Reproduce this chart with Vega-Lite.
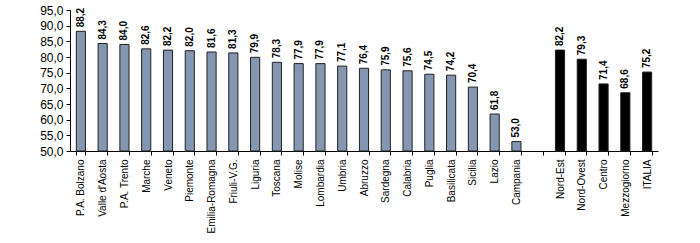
{
  "$schema": "https://vega.github.io/schema/vega-lite/v6.json",
  "width": 588,
  "height": 141,
  "autosize": "none",
  "padding": {"left": 70, "top": 10, "right": 42, "bottom": 92},
  "background": "white",
  "config": {
    "locale": {"number": {"decimal": ",", "thousands": ".", "grouping": [3], "currency": ["€", ""]}},
    "view": {"stroke": null},
    "font": "Liberation Sans"
  },
  "data": {
    "values": [
      {"regione": "P.A. Bolzano", "valore": 88.2, "tipo": "regione"},
      {"regione": "Valle d'Aosta", "valore": 84.3, "tipo": "regione"},
      {"regione": "P.A. Trento", "valore": 84.0, "tipo": "regione"},
      {"regione": "Marche", "valore": 82.6, "tipo": "regione"},
      {"regione": "Veneto", "valore": 82.2, "tipo": "regione"},
      {"regione": "Piemonte", "valore": 82.0, "tipo": "regione"},
      {"regione": "Emilia-Romagna", "valore": 81.6, "tipo": "regione"},
      {"regione": "Friuli-V.G.", "valore": 81.3, "tipo": "regione"},
      {"regione": "Liguria", "valore": 79.9, "tipo": "regione"},
      {"regione": "Toscana", "valore": 78.3, "tipo": "regione"},
      {"regione": "Molise", "valore": 77.9, "tipo": "regione"},
      {"regione": "Lombardia", "valore": 77.9, "tipo": "regione"},
      {"regione": "Umbria", "valore": 77.1, "tipo": "regione"},
      {"regione": "Abruzzo", "valore": 76.4, "tipo": "regione"},
      {"regione": "Sardegna", "valore": 75.9, "tipo": "regione"},
      {"regione": "Calabria", "valore": 75.6, "tipo": "regione"},
      {"regione": "Puglia", "valore": 74.5, "tipo": "regione"},
      {"regione": "Basilicata", "valore": 74.2, "tipo": "regione"},
      {"regione": "Sicilia", "valore": 70.4, "tipo": "regione"},
      {"regione": "Lazio", "valore": 61.8, "tipo": "regione"},
      {"regione": "Campania", "valore": 53.0, "tipo": "regione"},
      {"regione": "Nord-Est", "valore": 82.2, "tipo": "area"},
      {"regione": "Nord-Ovest", "valore": 79.3, "tipo": "area"},
      {"regione": "Centro", "valore": 71.4, "tipo": "area"},
      {"regione": "Mezzogiorno", "valore": 68.6, "tipo": "area"},
      {"regione": "ITALIA", "valore": 75.2, "tipo": "area"}
    ]
  },
  "encoding": {
    "x": {
      "field": "regione",
      "type": "nominal",
      "sort": null,
      "scale": {
        "domain": ["P.A. Bolzano", "Valle d'Aosta", "P.A. Trento", "Marche", "Veneto", "Piemonte", "Emilia-Romagna", "Friuli-V.G.", "Liguria", "Toscana", "Molise", "Lombardia", "Umbria", "Abruzzo", "Sardegna", "Calabria", "Puglia", "Basilicata", "Sicilia", "Lazio", "Campania", " ", "Nord-Est", "Nord-Ovest", "Centro", "Mezzogiorno", "ITALIA"],
        "paddingInner": 0.58,
        "paddingOuter": 0.29
      },
      "axis": {
        "title": null,
        "labelAngle": -90,
        "labelAlign": "right",
        "labelBaseline": "middle",
        "labelFontSize": 10,
        "labelColor": "#000",
        "labelPadding": 4,
        "tickBand": "extent",
        "tickSize": 4,
        "tickColor": "#000",
        "domainColor": "#000",
        "labelOverlap": false
      }
    },
    "y": {
      "field": "valore",
      "type": "quantitative",
      "scale": {"domain": [50, 95], "zero": false, "nice": false},
      "axis": {
        "title": null,
        "values": [50, 55, 60, 65, 70, 75, 80, 85, 90, 95],
        "format": ".1f",
        "grid": false,
        "labelFontSize": 12,
        "labelColor": "#000",
        "tickSize": 4,
        "tickColor": "#000",
        "domainColor": "#000",
        "labelPadding": 3
      }
    }
  },
  "layer": [
    {
      "mark": {"type": "bar", "stroke": "#222", "strokeWidth": 1},
      "encoding": {
        "y2": {"datum": 50},
        "color": {
          "field": "tipo",
          "type": "nominal",
          "scale": {"domain": ["regione", "area"], "range": ["#8596B0", "#000000"]},
          "legend": null
        }
      }
    },
    {
      "mark": {"type": "text", "angle": -90, "align": "left", "baseline": "middle", "dx": 4, "fontSize": 10, "fontWeight": "bold", "color": "#000"},
      "encoding": {
        "text": {"field": "valore", "type": "quantitative", "format": ".1f"}
      }
    }
  ]
}
